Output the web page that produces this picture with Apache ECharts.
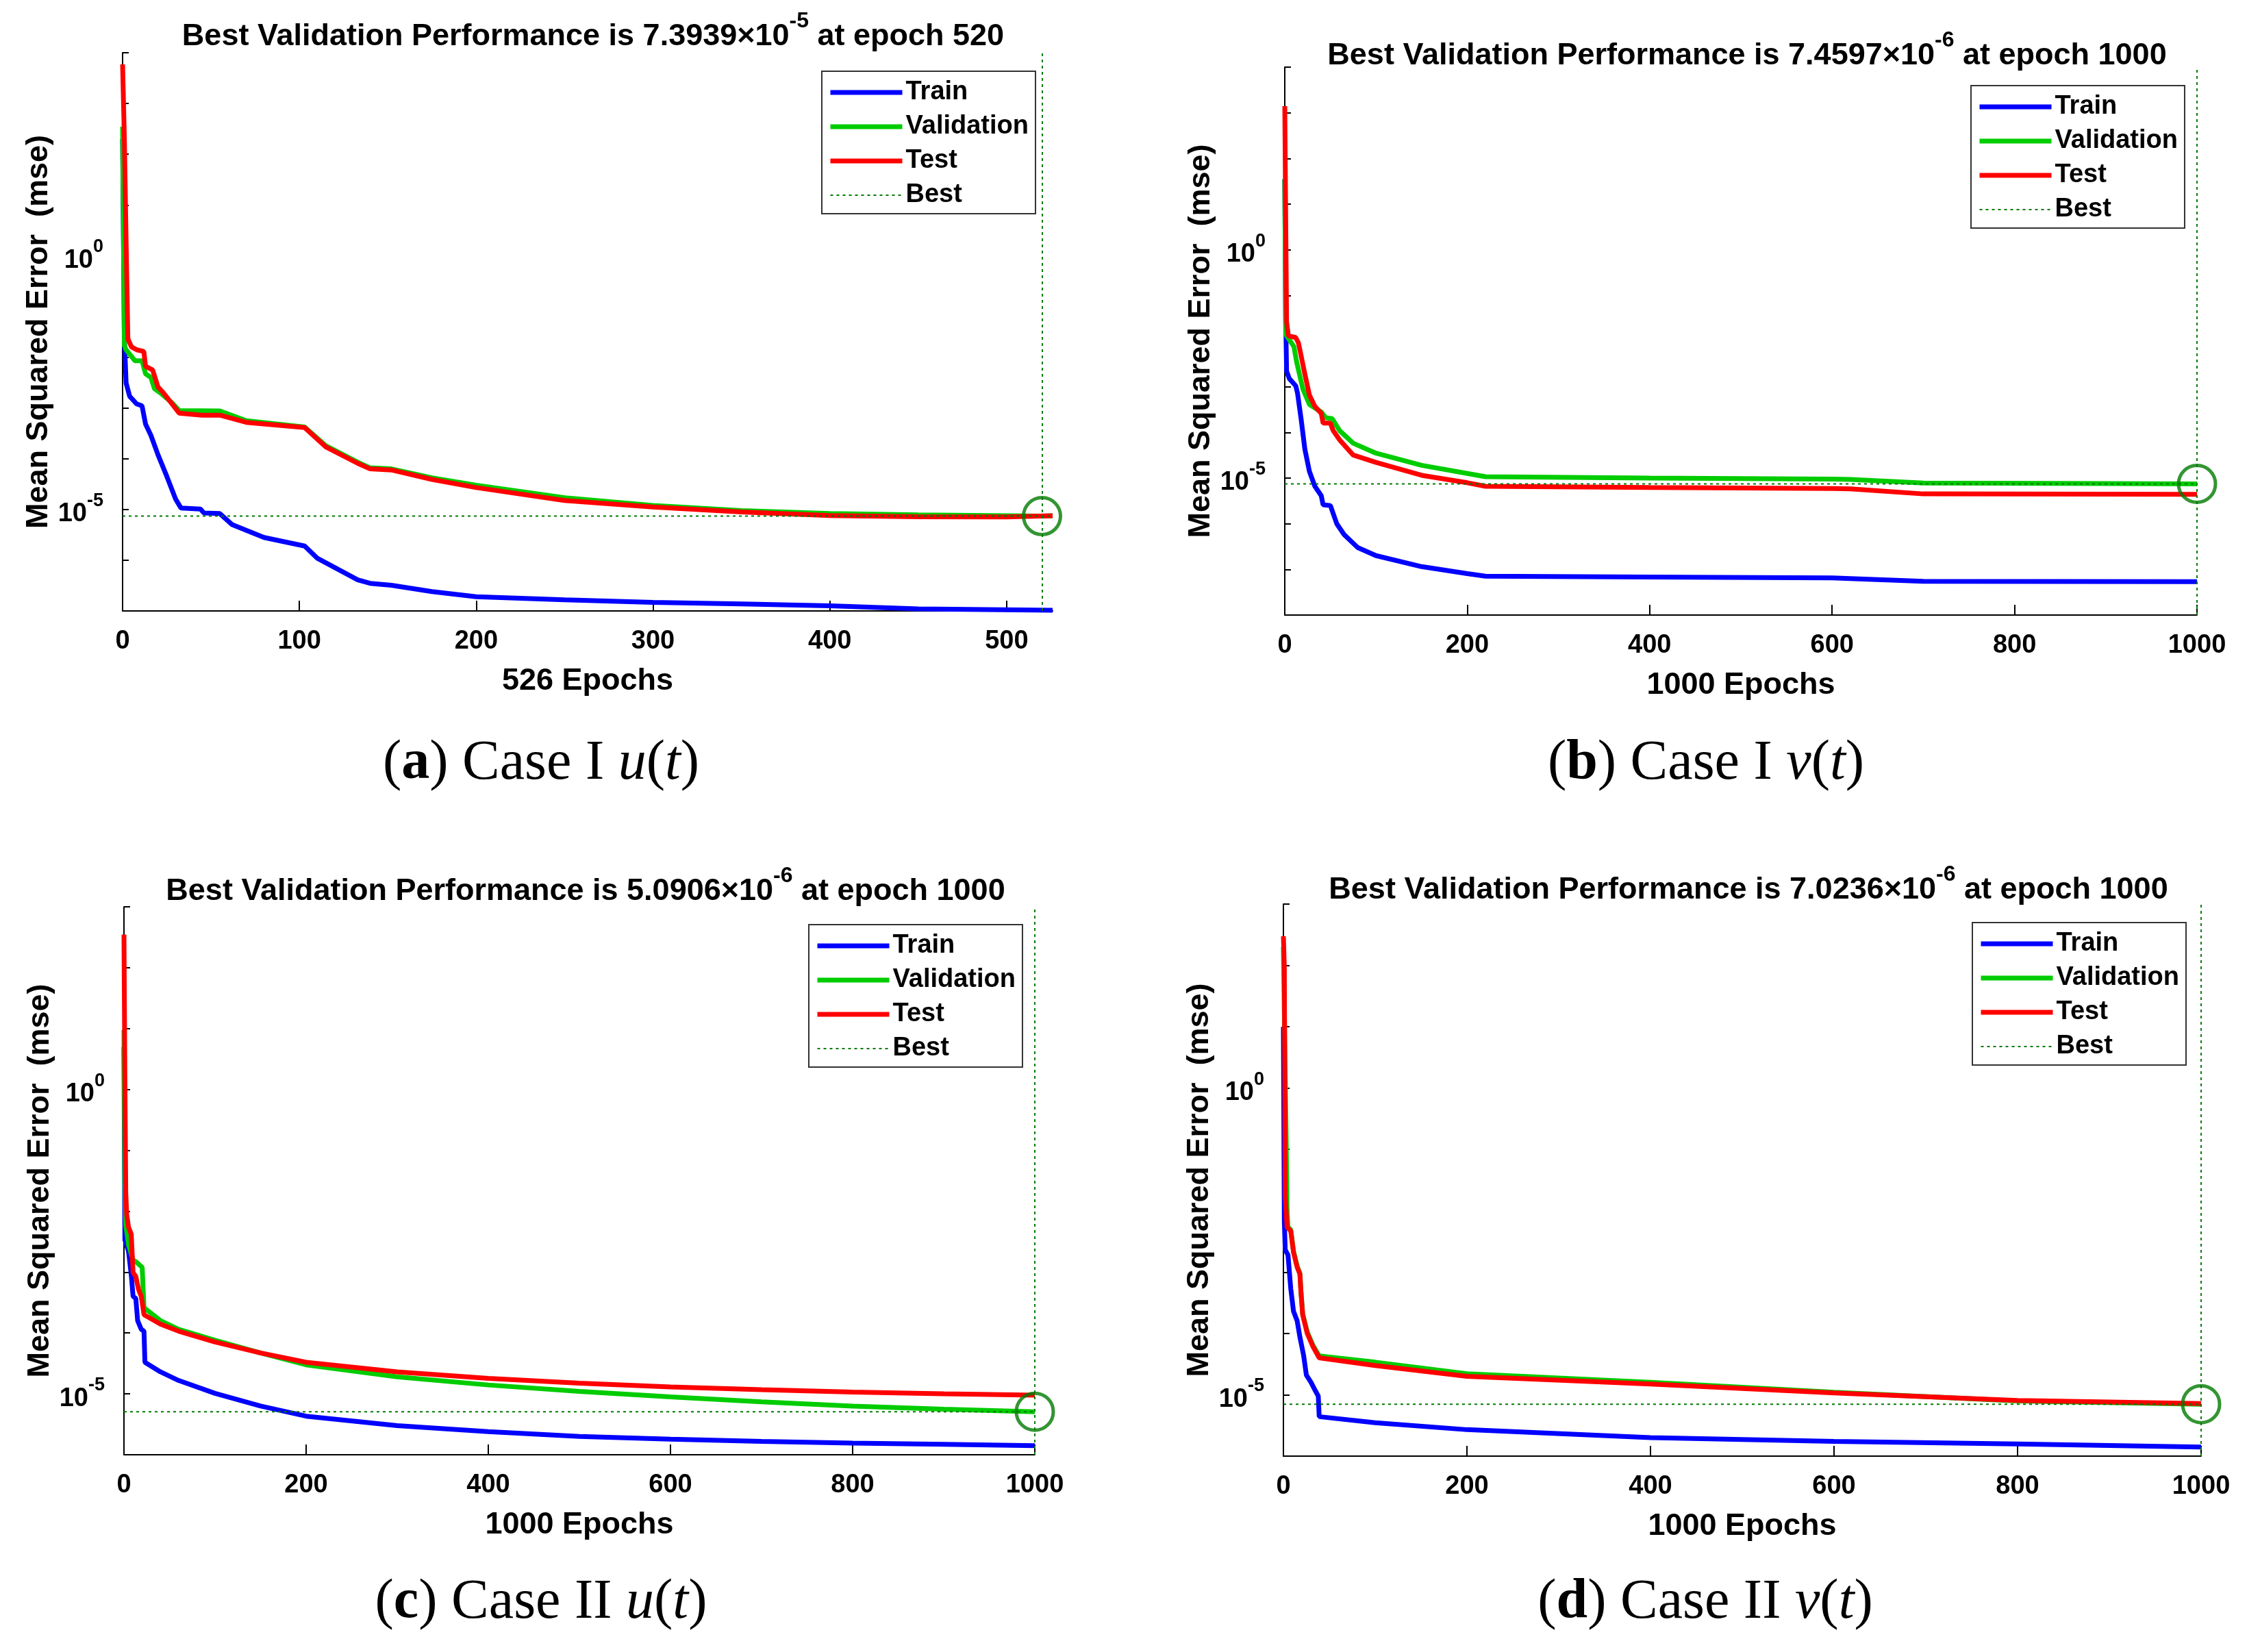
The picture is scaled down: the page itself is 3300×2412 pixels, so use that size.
<!DOCTYPE html>
<html><head><meta charset="utf-8">
<script src="https://cdn.jsdelivr.net/npm/echarts@6/dist/echarts.min.js"></script>
<style>html,body{margin:0;padding:0;background:#fff}#c{width:3300px;height:2412px}</style>
</head><body><div id="c"></div>
<script>
// ---------------- DATA ----------------
const panelNames = ['a', 'b', 'c', 'd'];
const captionCase = ['I', 'I', 'II', 'II'];
const captionVar = ['u', 'v', 'u', 'v'];
const epochCounts = [526, 1000, 1000, 1000];
const xTickValues = [
  [0, 100, 200, 300, 400, 500],
  [0, 200, 400, 600, 800, 1000],
  [0, 200, 400, 600, 800, 1000],
  [0, 200, 400, 600, 800, 1000]
];
const yMin = [1e-7, 1e-8, 1e-6, 1e-6];
const yMax = [1e4, 1e4, 1e3, 1e3];
const yTickValues = [
  [1e-7, 1e-6, 1e-5, 1e-4, 1e-3, 1e-2, 1e-1, 1, 1e1, 1e2, 1e3, 1e4],
  [1e-8, 1e-7, 1e-6, 1e-5, 1e-4, 1e-3, 1e-2, 1e-1, 1, 1e1, 1e2, 1e3, 1e4],
  [1e-6, 1e-5, 1e-4, 1e-3, 1e-2, 1e-1, 1, 1e1, 1e2, 1e3],
  [1e-6, 1e-5, 1e-4, 1e-3, 1e-2, 1e-1, 1, 1e1, 1e2, 1e3]
];
const yLabelValues = [1, 1e-5];
const bestEpoch = [520, 1000, 1000, 1000];
const bestPerf = [7.3939e-6, 7.4597e-6, 5.0906e-6, 7.0236e-6];
const titleMantissa = ['7.3939', '7.4597', '5.0906', '7.0236'];
const titleExponent = ['-5', '-6', '-6', '-6'];

// (a) Case I u(t)
const trainA = [[0,2.0e2],[1,2.3e-2],[2,3.1e-3],[4,1.7e-3],[8,1.2e-3],[11,1.1e-3],[13,4.8e-4],[16,2.9e-4],[20,1.2e-4],[25,4.5e-5],[30,1.6e-5],[33,1.07e-5],[44,1.02e-5],[46,8.5e-6],[55,8.3e-6],[62,5.0e-6],[80,2.8e-6],[103,1.9e-6],[110,1.1e-6],[133,4.1e-7],[140,3.5e-7],[152,3.2e-7],[175,2.4e-7],[200,1.9e-7],[250,1.66e-7],[300,1.48e-7],[350,1.38e-7],[400,1.26e-7],[450,1.1e-7],[526,1.03e-7]];
const valA = [[0,3.5e2],[1,1.7e-2],[2,1.4e-2],[7,8.5e-3],[11,8.5e-3],[13,4.7e-3],[16,4.0e-3],[18,2.4e-3],[22,1.9e-3],[28,1.26e-3],[32,8.9e-4],[55,8.7e-4],[70,5.6e-4],[103,4.2e-4],[115,1.8e-4],[133,8.5e-5],[140,6.6e-5],[152,6.3e-5],[175,4.2e-5],[200,3.0e-5],[250,1.7e-5],[300,1.2e-5],[350,9.5e-6],[400,8.3e-6],[450,7.8e-6],[520,7.3939e-6],[526,7.5e-6]];
const testA = [[0,5.9e3],[1,2.1e2],[2,1.9],[3,2.3e-2],[5,1.6e-2],[8,1.4e-2],[12,1.3e-2],[13,6.6e-3],[17,5.6e-3],[20,2.6e-3],[23,2.0e-3],[28,1.2e-3],[32,7.9e-4],[45,7.2e-4],[55,7.2e-4],[70,5.2e-4],[103,4.1e-4],[115,1.7e-4],[133,8.1e-5],[140,6.3e-5],[152,6.0e-5],[175,3.9e-5],[200,2.7e-5],[250,1.5e-5],[300,1.12e-5],[350,8.9e-6],[400,7.6e-6],[450,7.2e-6],[500,7.1e-6],[526,7.5e-6]];

// (b) Case I v(t)
const trainB = [[0,35],[1,3.1e-2],[2,2.2e-3],[5,1.5e-3],[12,1.05e-3],[14,7.2e-4],[18,1.9e-4],[22,4.3e-5],[27,1.4e-5],[33,6.6e-6],[40,4.1e-6],[42,2.6e-6],[50,2.5e-6],[57,1.0e-6],[65,5.8e-7],[80,3.0e-7],[100,2.0e-7],[150,1.15e-7],[200,8.1e-8],[220,7.1e-8],[400,6.8e-8],[600,6.5e-8],[700,5.5e-8],[1000,5.4e-8]];
const valB = [[0,35],[1,1.4e-2],[10,7.6e-3],[13,3.5e-3],[20,8.7e-4],[27,4.1e-4],[40,2.8e-4],[45,2.1e-4],[52,2.0e-4],[60,1.1e-4],[75,5.8e-5],[100,3.5e-5],[150,1.9e-5],[200,1.26e-5],[220,1.07e-5],[400,1.0e-5],[600,9.5e-6],[620,9.3e-6],[700,7.8e-6],[900,7.6e-6],[1000,7.4597e-6]];
const testB = [[0,1.4e3],[1,5.4],[2,2.6e-2],[4,1.3e-2],[12,1.2e-2],[15,9.1e-3],[18,4.7e-3],[22,1.9e-3],[27,6.6e-4],[33,3.7e-4],[40,2.6e-4],[42,1.6e-4],[50,1.6e-4],[53,1.1e-4],[60,6.9e-5],[75,3.2e-5],[100,2.2e-5],[150,1.15e-5],[200,7.9e-6],[220,6.6e-6],[400,6.2e-6],[600,5.9e-6],[620,5.8e-6],[700,4.5e-6],[1000,4.4e-6]];

// (c) Case II u(t)
const trainC = [[0,5.0],[1,3.4e-3],[5,2.2e-3],[8,9.1e-4],[10,4.0e-4],[13,3.7e-4],[15,1.6e-4],[19,1.15e-4],[22,1.07e-4],[23,3.3e-5],[40,2.3e-5],[60,1.66e-5],[100,1.02e-5],[150,6.3e-6],[200,4.3e-6],[300,3.0e-6],[400,2.4e-6],[500,2.0e-6],[600,1.8e-6],[700,1.66e-6],[800,1.55e-6],[900,1.48e-6],[1000,1.41e-6]];
const valC = [[0,9.5],[1,3.5e-2],[2,5.9e-3],[5,2.8e-3],[10,1.6e-3],[15,1.4e-3],[20,1.2e-3],[22,2.6e-4],[40,1.6e-4],[60,1.15e-4],[100,7.6e-5],[150,4.7e-5],[200,3.0e-5],[300,1.9e-5],[400,1.4e-5],[500,1.1e-5],[600,8.9e-6],[700,7.4e-6],[800,6.3e-6],[900,5.6e-6],[1000,5.0906e-6]];
const testC = [[0,3.5e2],[1,1.7],[2,2.0e-2],[3,8.9e-3],[5,5.5e-3],[8,4.2e-3],[10,9.8e-4],[13,8.5e-4],[16,5.2e-4],[19,4.0e-4],[22,2.0e-4],[40,1.4e-4],[60,1.07e-4],[100,7.1e-5],[150,4.7e-5],[200,3.3e-5],[300,2.3e-5],[400,1.8e-5],[500,1.5e-5],[600,1.3e-5],[700,1.17e-5],[800,1.07e-5],[900,1.0e-5],[1000,9.5e-6]];

// (d) Case II v(t)
const trainD = [[0,10],[1,6.6e-3],[2,2.3e-3],[5,1.9e-3],[8,5.4e-4],[11,2.3e-4],[15,1.6e-4],[18,8.7e-5],[22,4.4e-5],[25,2.1e-5],[30,1.6e-5],[35,1.15e-5],[38,9.5e-6],[39,4.4e-6],[100,3.5e-6],[200,2.7e-6],[400,2.0e-6],[600,1.74e-6],[800,1.58e-6],[1000,1.41e-6]];
const valD = [[0,2.0e2],[3,0.15],[4,1.0e-2],[5,5.4e-3],[8,4.9e-3],[11,2.2e-3],[15,1.25e-3],[18,9.5e-4],[19,5.2e-4],[21,2.1e-4],[26,1.05e-4],[32,6.5e-5],[39,4.3e-5],[100,3.4e-5],[200,2.2e-5],[400,1.6e-5],[600,1.1e-5],[800,7.9e-6],[1000,7.0236e-6]];
const testD = [[0,3.0e2],[1,93],[2,1.7e-2],[4,5.4e-3],[8,4.7e-3],[11,2.1e-3],[15,1.2e-3],[18,9.3e-4],[19,5.0e-4],[21,2.0e-4],[26,1.0e-4],[32,6.2e-5],[39,4.0e-5],[100,3.0e-5],[200,2.0e-5],[400,1.5e-5],[600,1.07e-5],[800,8.1e-6],[1000,7.2e-6]];

// ---------------- LAYOUT / STYLE ----------------
const FONT = '"Liberation Sans", Arial, Helvetica, sans-serif';
const SERIF = '"Liberation Serif", "Times New Roman", serif';
const panels = [
  {train: trainA, val: valA, test: testA},
  {train: trainB, val: valB, test: testB},
  {train: trainC, val: valC, test: testC},
  {train: trainD, val: valD, test: testD}
];
const grids = [
  {left: 179, top: 77, width: 1358, height: 815},
  {left: 1876, top: 98, width: 1332, height: 800},
  {left: 181, top: 1324, width: 1330, height: 800},
  {left: 1874, top: 1320, width: 1340, height: 806}
];
const legendPos = [[1200, 104], [2878, 125], [1181, 1350], [2880, 1347]];
const titlePos = [[866, 46], [2551, 74], [855, 1294], [2553, 1292]];
const captionPos = [[790, 1115], [2491, 1115], [790, 2340], [2490, 2340]];

const C_TRAIN = '#0000ff', C_VAL = '#00cc00', C_TEST = '#ff0000', C_BEST = '#007a00';
const DOT = [4, 5];
const LW = 7;

const option = {
  animation: false,
  backgroundColor: '#ffffff',
  grid: [], xAxis: [], yAxis: [], series: [], legend: [], title: []
};

const boldText = (size) => ({fontFamily: FONT, fontSize: size, fontWeight: 'bold', color: '#000'});
const serifText = (weight, style) => ({fontFamily: SERIF, fontSize: 82, fontWeight: weight, fontStyle: style, color: '#000'});

panels.forEach((p, i) => {
  option.grid.push(Object.assign({containLabel: false}, grids[i]));
  option.xAxis.push({
    type: 'value', gridIndex: i, min: 0, max: epochCounts[i],
    name: epochCounts[i] + ' Epochs', nameLocation: 'middle', nameGap: 80,
    nameTextStyle: boldText(45),
    axisLine: {show: true, onZero: false, lineStyle: {color: '#000', width: 2}},
    axisTick: {show: true, inside: true, length: 15, lineStyle: {color: '#000', width: 2}, customValues: xTickValues[i]},
    axisLabel: Object.assign({customValues: xTickValues[i], margin: 26, formatter: (v) => String(v)}, boldText(38)),
    splitLine: {show: false}
  });
  option.yAxis.push({
    type: 'log', logBase: 10, gridIndex: i, min: yMin[i], max: yMax[i],
    name: 'Mean Squared Error  (mse)', nameLocation: 'middle', nameGap: 100,
    nameTextStyle: boldText(45),
    axisLine: {show: true, lineStyle: {color: '#000', width: 2}},
    axisTick: {show: true, inside: true, length: 9, lineStyle: {color: '#000', width: 2}, customValues: yTickValues[i]},
    axisLabel: {
      customValues: yLabelValues, margin: 28,
      formatter: (v) => '{b|10}{s|' + Math.round(Math.log10(v)) + '}',
      rich: {
        b: Object.assign({padding: [14, 0, 0, 0]}, boldText(38)),
        s: Object.assign({verticalAlign: 'top'}, boldText(27))
      }
    },
    splitLine: {show: false}
  });

  const common = {xAxisIndex: i, yAxisIndex: i, symbol: 'none', showSymbol: false, clip: false, silent: true};
  option.series.push(Object.assign({type: 'line', name: 'Train', data: p.train,
    lineStyle: {color: C_TRAIN, width: LW}, itemStyle: {color: C_TRAIN}}, common));
  option.series.push(Object.assign({type: 'line', name: 'Validation', data: p.val,
    lineStyle: {color: C_VAL, width: LW}, itemStyle: {color: C_VAL}}, common));
  option.series.push(Object.assign({type: 'line', name: 'Test', data: p.test,
    lineStyle: {color: C_TEST, width: LW}, itemStyle: {color: C_TEST}}, common));
  option.series.push(Object.assign({type: 'line', name: 'Best',
    data: [[0, bestPerf[i]], [epochCounts[i], bestPerf[i]]],
    lineStyle: {color: C_BEST, width: 2, type: DOT}, itemStyle: {color: C_BEST},
    markLine: {silent: true, symbol: ['none', 'none'], label: {show: false},
      lineStyle: {color: C_BEST, width: 2, type: DOT}, data: [{xAxis: bestEpoch[i]}]}
  }, common));
  option.series.push({type: 'scatter', name: 'Best point', xAxisIndex: i, yAxisIndex: i,
    data: [[bestEpoch[i], bestPerf[i]]], symbol: 'circle', symbolSize: 54, clip: false, silent: true, z: 5,
    itemStyle: {color: 'rgba(0,0,0,0)', borderColor: C_BEST, borderWidth: 5}});

  option.legend.push({
    orient: 'vertical', left: legendPos[i][0], top: legendPos[i][1],
    padding: [11, 10, 7, 9], itemGap: 10, itemWidth: 105, itemHeight: 20,
    borderColor: '#333', borderWidth: 2, backgroundColor: '#fff', selectedMode: false,
    itemStyle: {opacity: 0},
    textStyle: Object.assign({lineHeight: 40}, boldText(38)),
    data: [
      {name: 'Train', lineStyle: {width: LW}},
      {name: 'Validation', lineStyle: {width: LW}},
      {name: 'Test', lineStyle: {width: LW}},
      {name: 'Best', lineStyle: {width: 2, type: DOT}}
    ]
  });

  option.title.push({
    left: titlePos[i][0], top: titlePos[i][1], textAlign: 'center', textVerticalAlign: 'middle', padding: 0,
    text: '{t|Best Validation Performance is ' + titleMantissa[i] + '×10}{s|' + titleExponent[i] + '}{t| at epoch ' + bestEpoch[i] + '}',
    textStyle: {rich: {
      t: Object.assign({padding: [16, 0, 0, 0]}, boldText(45)),
      s: Object.assign({verticalAlign: 'top'}, boldText(32))
    }}
  });
  option.title.push({
    left: captionPos[i][0], top: captionPos[i][1], textAlign: 'center', textVerticalAlign: 'middle', padding: 0,
    text: '{r|(}{b|' + panelNames[i] + '}{r|) Case ' + captionCase[i] + ' }{i|' + captionVar[i] + '}{r|(}{i|t}{r|)}',
    textStyle: {fontWeight: 'normal', rich: {
      r: serifText('normal', 'normal'),
      b: serifText('bold', 'normal'),
      i: serifText('normal', 'italic')
    }}
  });
});

const chart = echarts.init(document.getElementById('c'), null, {renderer: 'canvas', width: 3300, height: 2412});
chart.setOption(option);
</script>
</body></html>
